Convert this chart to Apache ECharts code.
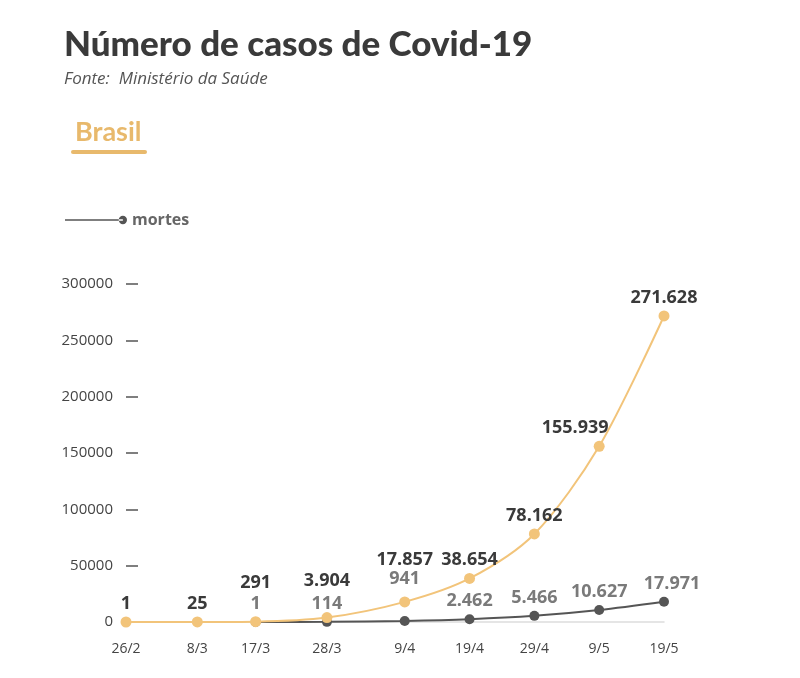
<!DOCTYPE html>
<html>
<head>
<meta charset="utf-8">
<script src="https://cdn.jsdelivr.net/npm/echarts@6/dist/echarts.min.js"></script>
<style>
  html, body { margin: 0; padding: 0; background: #fff; }
  #chart { width: 800px; height: 678px; }
</style>
</head>
<body>
<div id="chart"></div>
<script>
// datas (2020) e valores
var dateLabels = ['26/2', '8/3', '17/3', '28/3', '9/4', '19/4', '29/4', '9/5', '19/5'];
var casos = [1, 25, 291, 3904, 17857, 38654, 78162, 155939, 271628];
var mortes = [null, null, 1, 114, 941, 2462, 5466, 10627, 17971];
var yTicks = [0, 50000, 100000, 150000, 200000, 250000, 300000];

// deslocamento dos rotulos para nao se sobreporem
var casosLabelShift = [[0, 0], [0, 0], [0, -20], [0, -18], [0, -24], [0, 0], [0, 0], [-24, 0], [0, 0]];
var mortesLabelShift = [[0, 0], [0, 0], [0, 0], [0, 0], [0, -24], [0, 0], [0, 0], [0, 0], [8, 0]];

function dayOf(lbl) {
    var p = lbl.split('/');
    return Date.UTC(2020, +p[1] - 1, +p[0]) / 86400000;
}
var day0 = dayOf(dateLabels[0]);
var days = dateLabels.map(function (l) { return dayOf(l) - day0; });

function fmt(v) {
    return String(v).replace(/\B(?=(\d{3})+(?!\d))/g, '.');
}

function pts(values, shifts) {
    var out = [];
    values.forEach(function (v, i) {
        if (v == null) return;
        out.push({ value: [days[i], v], label: { offset: shifts[i] } });
    });
    return out;
}

var chart = echarts.init(document.getElementById('chart'));

var option = {
    animation: false,
    backgroundColor: '#fff',
    title: [{
        text: 'Número de casos de Covid-19',
        subtext: 'Fonte:  Ministério da Saúde',
        left: 59,
        top: 22,
        itemGap: 9,
        textStyle: {
            fontFamily: 'Lato, sans-serif',
            fontWeight: 900,
            fontSize: 35,
            color: '#3a3a3a'
        },
        subtextStyle: {
            fontFamily: 'Open Sans, sans-serif',
            fontStyle: 'italic',
            fontSize: 17,
            color: '#555'
        }
    }, {
        text: 'Brasil',
        left: 70,
        top: 114,
        textStyle: {
            fontFamily: 'Lato, sans-serif',
            fontWeight: 'bold',
            fontSize: 27,
            color: '#e8b96c'
        }
    }],
    graphic: [{
        type: 'rect',
        left: 71,
        top: 150,
        shape: { width: 76, height: 4, r: 2 },
        style: { fill: '#e8b96c' }
    }],
    legend: {
        data: ['mortes'],
        left: 60,
        top: 207,
        itemWidth: 62,
        itemHeight: 10,
        icon: 'path://M0,4.3H56V5.7H0Z M56,5m-4,0a4,4 0 1,0 8,0a4,4 0 1,0 -8,0Z',
        textStyle: {
            fontFamily: 'Open Sans, sans-serif',
            fontWeight: 'bold',
            fontSize: 16,
            color: '#666'
        }
    },
    grid: {
        left: 126,
        right: 136,
        top: 284,
        bottom: 56
    },
    xAxis: {
        type: 'value',
        min: 0,
        max: days[days.length - 1],
        axisLine: { lineStyle: { color: '#ddd', width: 1.5 } },
        axisTick: { show: false },
        splitLine: { show: false },
        axisLabel: {
            customValues: days,
            margin: 20,
            fontFamily: 'Open Sans, sans-serif',
            fontSize: 14,
            color: '#444',
            formatter: function (v) {
                var i = days.indexOf(v);
                return i >= 0 ? dateLabels[i] : '';
            }
        }
    },
    yAxis: {
        type: 'value',
        min: yTicks[0],
        max: yTicks[yTicks.length - 1],
        interval: yTicks[1] - yTicks[0],
        axisLine: { show: false },
        axisTick: { show: true, inside: true, length: 12, lineStyle: { color: '#555', width: 1.5 } },
        splitLine: { show: false },
        axisLabel: {
            margin: 13,
            fontFamily: 'Open Sans, sans-serif',
            fontSize: 15,
            color: '#444',
            formatter: function (v) { return String(v); }
        }
    },
    series: [{
        name: 'casos',
        type: 'line',
        smooth: 0.3,
        symbol: 'circle',
        symbolSize: 11,
        z: 3,
        lineStyle: { color: '#f2c47a', width: 2 },
        itemStyle: { color: '#f2c47a' },
        label: {
            show: true,
            position: 'top',
            distance: 4,
            fontFamily: 'Open Sans, sans-serif',
            fontWeight: 'bold',
            fontSize: 18,
            color: '#3a3a3a',
            formatter: function (p) { return fmt(p.value[1]); }
        },
        data: pts(casos, casosLabelShift)
    }, {
        name: 'mortes',
        type: 'line',
        smooth: 0.3,
        symbol: 'circle',
        symbolSize: 10,
        z: 2,
        lineStyle: { color: '#555', width: 2 },
        itemStyle: { color: '#555' },
        label: {
            show: true,
            position: 'top',
            distance: 4,
            fontFamily: 'Open Sans, sans-serif',
            fontWeight: 'bold',
            fontSize: 18,
            color: '#7a7a7a',
            formatter: function (p) { return fmt(p.value[1]); }
        },
        data: pts(mortes, mortesLabelShift)
    }]
};

chart.setOption(option);
</script>
</body>
</html>
